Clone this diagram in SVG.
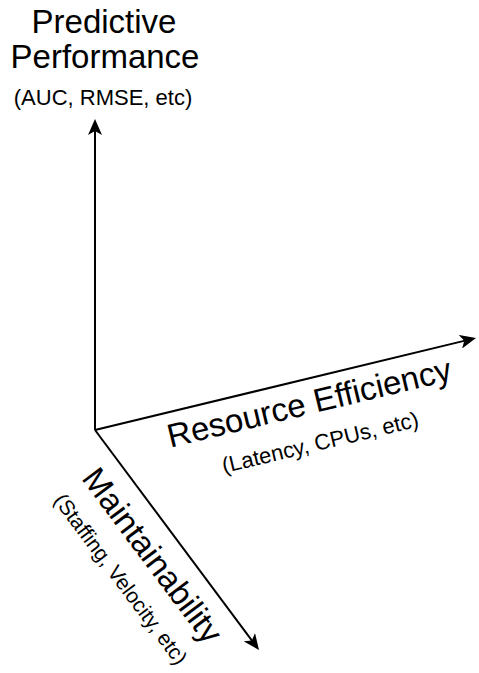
<svg xmlns="http://www.w3.org/2000/svg" width="479" height="673" viewBox="0 0 479 673">
  <style>
    .axis { stroke: #000; stroke-width: 2; fill: none; marker-end: url(#arrow); }
    .title { font-family: "Liberation Sans", Arial, Helvetica, sans-serif; font-size: 33px; fill: #000; text-anchor: middle; }
    .sub { font-family: "Liberation Sans", Arial, Helvetica, sans-serif; font-size: 22px; fill: #000; text-anchor: middle; }
  </style>
  <defs>
    <marker id="arrow" viewBox="0 0 16 14" refX="8" refY="7" markerWidth="16" markerHeight="14" markerUnits="userSpaceOnUse" orient="auto">
      <path d="M0,0 L16,7 L0,14 L4,7 Z" fill="#000"/>
    </marker>
  </defs>
  <rect width="479" height="673" fill="#fff"/>

  <!-- three axes from a common origin -->
  <g id="connectors">
    <line class="axis" x1="95" y1="430" x2="95" y2="127"/>
    <line class="axis" x1="95" y1="430" x2="468.2" y2="339.9"/>
    <line class="axis" x1="95" y1="430" x2="254.2" y2="643.6"/>
  </g>

  <g id="predictive-performance">
    <text class="title" x="104" y="33">Predictive</text>
    <text class="title" x="105" y="68">Performance</text>
    <text class="sub" x="103" y="105">(AUC, RMSE, etc)</text>
  </g>

  <g id="resource-efficiency">
    <text class="title" transform="translate(309,402) rotate(-13.5)" y="12">Resource Efficiency</text>
    <text class="sub" transform="translate(320,442) rotate(-13.5)" y="8">(Latency, CPUs, etc)</text>
  </g>

  <g id="maintainability">
    <text class="title" transform="translate(153,555) rotate(53.2)" y="12">Maintainability</text>
    <text class="sub" style="font-size:21px" transform="translate(121,579) rotate(53.2)" y="7.5">(Staffing, Velocity, etc)</text>
  </g>
</svg>
